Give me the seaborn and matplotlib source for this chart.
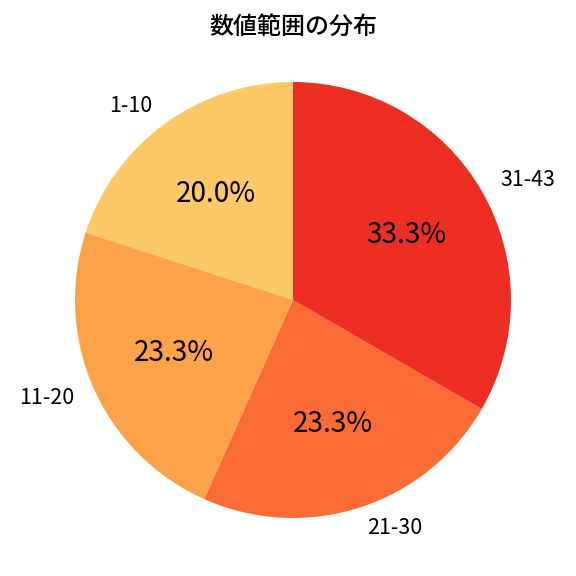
import matplotlib
matplotlib.use("Agg")
import matplotlib.pyplot as plt
import seaborn as sns

# データ
ranges = ["1-10", "11-20", "21-30", "31-43"]
counts = [6, 7, 7, 10]
colors = ["#FDC967", "#FCA349", "#FC6B33", "#EE2E22"]

sns.set_theme(style="white")
plt.rcParams['font.family'] = ['Noto Sans CJK JP', 'DejaVu Sans']

fig = plt.figure(figsize=(6, 6), dpi=96)
ax = fig.add_axes([75 / 576, 58 / 576, 436 / 576, 436 / 576])

wedges, texts, autotexts = ax.pie(
    counts,
    labels=ranges,
    colors=colors,
    autopct='%1.1f%%',
    startangle=90,
    counterclock=True,
    pctdistance=0.6,
    labeldistance=1.1,
    wedgeprops={'linewidth': 0},
    textprops={'fontsize': 16, 'color': 'black'},
)
for t in autotexts:
    t.set_fontsize(21)
for t in texts:
    t.set_clip_on(False)

ax.set_xlim(-1, 1)
ax.set_ylim(-1, 1)
ax.set_aspect('equal')
fig.suptitle('数値範囲の分布', fontsize=18, fontweight='medium', color='black',
             x=0.509, y=0.975)

fig.savefig("out.png", dpi=96)
